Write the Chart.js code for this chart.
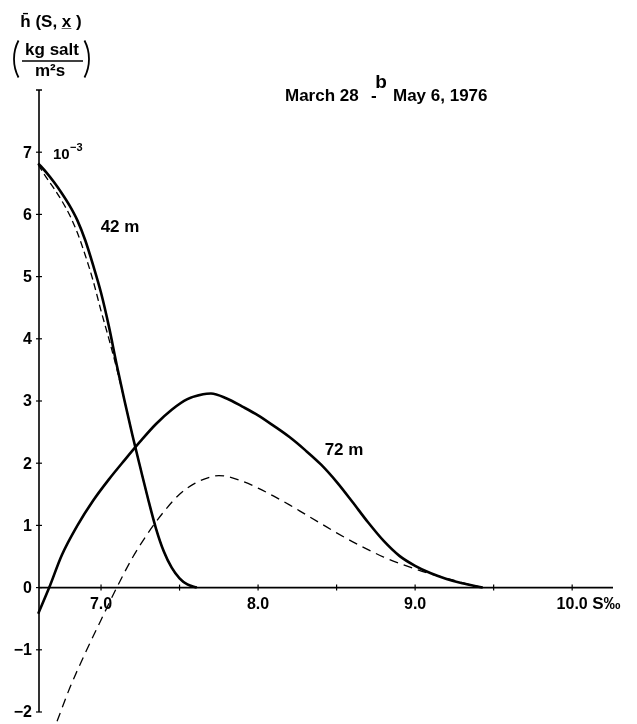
<!DOCTYPE html>
<html>
<head>
<meta charset="utf-8">
<script src="https://cdn.jsdelivr.net/npm/chart.js@4.4.1/dist/chart.umd.min.js"></script>
<style>
html,body{margin:0;padding:0;background:#fff;}
canvas{display:block;}
</style>
</head>
<body>
<canvas id="c" width="637" height="724"></canvas>
<script>
// ---- data (salinity S in per mille, flux h in 10^-3 kg salt / m^2 s) ----
const s42Solid = [6.60, 6.65, 6.70, 6.75, 6.80, 6.85, 6.90, 6.95, 7.00, 7.05, 7.10, 7.15, 7.20, 7.25, 7.30, 7.35, 7.40, 7.45, 7.50, 7.55, 7.61];
const h42Solid = [6.82, 6.68, 6.52, 6.34, 6.14, 5.90, 5.58, 5.18, 4.74, 4.20, 3.58, 3.00, 2.45, 1.93, 1.42, 0.95, 0.58, 0.32, 0.15, 0.05, 0.00];
const s42Dashed = [6.60, 6.65, 6.70, 6.75, 6.80, 6.85, 6.90, 6.95, 7.00, 7.05, 7.10, 7.15, 7.20, 7.25, 7.30, 7.35, 7.40, 7.45, 7.50, 7.55, 7.61];
const h42Dashed = [6.80, 6.60, 6.42, 6.22, 5.99, 5.70, 5.34, 4.93, 4.45, 4.00, 3.52, 3.00, 2.45, 1.93, 1.42, 0.95, 0.58, 0.32, 0.15, 0.05, 0.00];
const s72Solid = [6.60, 6.67, 6.75, 6.85, 6.95, 7.05, 7.15, 7.25, 7.35, 7.45, 7.55, 7.65, 7.70, 7.80, 7.90, 8.00, 8.10, 8.20, 8.30, 8.40, 8.50, 8.60, 8.70, 8.80, 8.90, 9.00, 9.10, 9.20, 9.30, 9.43];
const h72Solid = [-0.42, 0.00, 0.52, 1.00, 1.40, 1.74, 2.05, 2.35, 2.63, 2.86, 3.03, 3.11, 3.12, 3.04, 2.91, 2.77, 2.60, 2.42, 2.21, 1.98, 1.70, 1.38, 1.05, 0.75, 0.51, 0.35, 0.23, 0.14, 0.07, 0.00];
const s72Dashed = [6.72, 6.80, 6.90, 7.00, 7.10, 7.20, 7.30, 7.40, 7.50, 7.60, 7.70, 7.75, 7.80, 7.90, 8.00, 8.10, 8.20, 8.30, 8.40, 8.50, 8.60, 8.70, 8.80, 8.90, 9.00, 9.10, 9.20, 9.30, 9.43];
const h72Dashed = [-2.15, -1.62, -1.05, -0.52, 0.00, 0.48, 0.88, 1.22, 1.50, 1.68, 1.78, 1.80, 1.79, 1.71, 1.60, 1.47, 1.33, 1.18, 1.03, 0.88, 0.74, 0.61, 0.49, 0.39, 0.30, 0.22, 0.15, 0.08, 0.00];
const xTicks = [7.0, 7.5, 8.0, 8.5, 9.0, 9.5, 10.0];
const xTickLabels = ["7.0", "", "8.0", "", "9.0", "", "10.0"];
const yTicks = [-2, -1, 0, 1, 2, 3, 4, 5, 6, 7];
const xUnit = "S\u2030";
const titleLeft = "March 28";
const titleDash = "-";
const titleRight = "May 6, 1976";
const panelLetter = "b";
const curveLabels = ["42 m", "72 m"];

const toPts = (xs, ys) => xs.map((x, i) => ({x: x, y: ys[i]}));
const FONT = '"Liberation Sans", Arial, sans-serif';

const axesPlugin = {
  id: 'axesPlugin',
  afterDraw(chart) {
    const ctx = chart.ctx;
    const xs = chart.scales.x, ys = chart.scales.y;
    const x0 = xs.getPixelForValue(xs.min);
    const y0 = ys.getPixelForValue(0);
    const yTop = ys.getPixelForValue(ys.max);
    const yBot = ys.getPixelForValue(ys.min);
    const xEnd = xs.getPixelForValue(xs.max);
    ctx.save();
    ctx.strokeStyle = '#000';
    ctx.fillStyle = '#000';
    ctx.lineWidth = 1.6;
    // y axis
    ctx.beginPath();
    ctx.moveTo(x0, yTop); ctx.lineTo(x0, yBot);
    ctx.moveTo(x0 - 3, yTop); ctx.lineTo(x0 + 3, yTop);
    ctx.stroke();
    // x axis at y = 0
    ctx.beginPath();
    ctx.moveTo(x0, y0); ctx.lineTo(xEnd, y0);
    ctx.stroke();
    ctx.lineWidth = 1.2;
    // y ticks
    ctx.font = 'bold 16px ' + FONT;
    ctx.textAlign = 'right';
    ctx.textBaseline = 'middle';
    yTicks.forEach(v => {
      const p = ys.getPixelForValue(v);
      ctx.beginPath(); ctx.moveTo(x0 - 3, p); ctx.lineTo(x0 + 3, p); ctx.stroke();
      ctx.fillText(v < 0 ? '\u2212' + Math.abs(v) : String(v), x0 - 7, p + 1);
    });
    // x ticks
    ctx.textAlign = 'center';
    ctx.textBaseline = 'top';
    ctx.font = 'bold 16px ' + FONT;
    xTicks.forEach((v, i) => {
      const p = xs.getPixelForValue(v);
      ctx.beginPath(); ctx.moveTo(p, y0 - 3); ctx.lineTo(p, y0 + 3); ctx.stroke();
      if (xTickLabels[i]) ctx.fillText(xTickLabels[i], p, y0 + 9);
    });
    // unit after last label
    ctx.textAlign = 'left';
    ctx.font = 'bold 17px ' + FONT;
    const pl = xs.getPixelForValue(xTicks[xTicks.length - 1]);
    ctx.fillText(xUnit, pl + 20, y0 + 8);

    // y axis title
    ctx.textAlign = 'center';
    ctx.textBaseline = 'alphabetic';
    ctx.font = 'bold 17px ' + FONT;
    ctx.fillText('h\u0304 (S, x\u0332 )', 51, 27);
    ctx.fillText('kg salt', 52, 55);
    ctx.lineWidth = 1.3;
    ctx.beginPath(); ctx.moveTo(22, 61); ctx.lineTo(83, 61); ctx.stroke();
    ctx.fillText('m\u00b2s', 50, 76);
    // big parentheses
    ctx.lineWidth = 1.8;
    ctx.beginPath(); ctx.arc(54, 59, 40, Math.PI - 0.48, Math.PI + 0.48); ctx.stroke();
    ctx.beginPath(); ctx.arc(49, 59, 40, -0.48, 0.48); ctx.stroke();

    // 10^-3 factor
    ctx.textAlign = 'left';
    ctx.font = 'bold 15px ' + FONT;
    ctx.fillText('10', 53, 159);
    ctx.font = 'bold 11px ' + FONT;
    ctx.fillText('\u22123', 70, 151);

    // title
    ctx.font = 'bold 17px ' + FONT;
    ctx.fillText(titleLeft, 285, 101);
    ctx.fillText(titleDash, 371, 101);
    ctx.fillText(titleRight, 393, 101);
    ctx.font = 'bold 19px ' + FONT;
    ctx.textAlign = 'center';
    ctx.fillText(panelLetter, 381, 88);

    // curve labels
    ctx.font = 'bold 17px ' + FONT;
    ctx.textBaseline = 'middle';
    ctx.fillText(curveLabels[0], 120, 227);
    ctx.fillText(curveLabels[1], 344, 450);
    ctx.restore();
  }
};

new Chart(document.getElementById('c'), {
  type: 'line',
  data: {
    datasets: [
      {label: '42 m', data: toPts(s42Solid, h42Solid), borderColor: '#000', borderWidth: 2.6, pointRadius: 0, cubicInterpolationMode: 'monotone', fill: false, clip: false},
      {label: '42 m (dashed)', data: toPts(s42Dashed, h42Dashed), borderColor: '#000', borderWidth: 1.3, borderDash: [7, 4], pointRadius: 0, cubicInterpolationMode: 'monotone', fill: false, clip: false},
      {label: '72 m', data: toPts(s72Solid, h72Solid), borderColor: '#000', borderWidth: 2.6, pointRadius: 0, cubicInterpolationMode: 'monotone', fill: false, clip: false},
      {label: '72 m (dashed)', data: toPts(s72Dashed, h72Dashed), borderColor: '#000', borderWidth: 1.3, borderDash: [9, 6], pointRadius: 0, cubicInterpolationMode: 'monotone', fill: false, clip: false}
    ]
  },
  options: {
    responsive: false,
    animation: false,
    devicePixelRatio: 1,
    layout: {padding: {left: 39, right: 24, top: 90, bottom: 12}},
    plugins: {legend: {display: false}, tooltip: {enabled: false}, title: {display: false}},
    scales: {
      x: {type: 'linear', min: 6.605, max: 10.26, display: false},
      y: {type: 'linear', min: -2, max: 8, display: false}
    }
  },
  plugins: [axesPlugin]
});
</script>
</body>
</html>
